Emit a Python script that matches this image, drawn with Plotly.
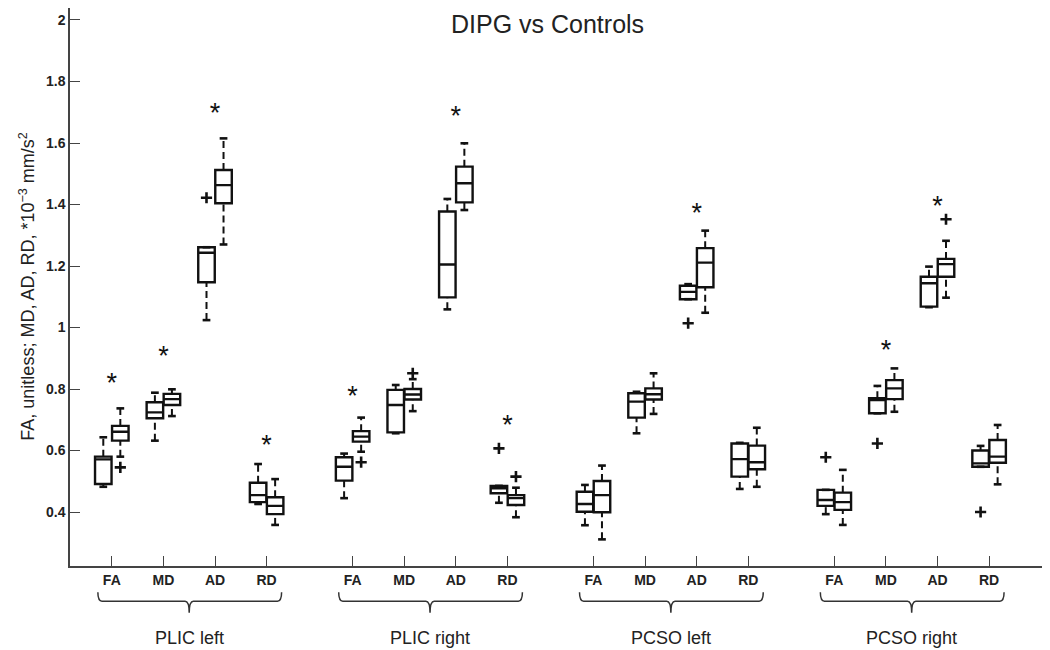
import plotly.graph_objects as go

# ---- data ----
regions = ["PLIC left", "PLIC right", "PCSO left", "PCSO right"]
metrics = ["FA", "MD", "AD", "RD"]

# 16 categories: region x metric, DIPG boxes
dipg_low = [0.482, 0.632, 1.024, 0.426, 0.445, 0.656, 1.059, 0.430,
            0.357, 0.656, 1.092, 0.475, 0.393, 0.721, 1.066, 0.547]
dipg_q1 = [0.491, 0.705, 1.147, 0.432, 0.502, 0.659, 1.098, 0.461,
           0.401, 0.707, 1.092, 0.515, 0.420, 0.721, 1.068, 0.547]
dipg_med = [0.571, 0.724, 1.243, 0.455, 0.547, 0.748, 1.205, 0.477,
            0.426, 0.759, 1.116, 0.572, 0.439, 0.764, 1.144, 0.558]
dipg_q3 = [0.580, 0.757, 1.261, 0.495, 0.578, 0.797, 1.377, 0.485,
           0.466, 0.786, 1.136, 0.623, 0.472, 0.770, 1.165, 0.600]
dipg_high = [0.643, 0.788, 1.261, 0.556, 0.590, 0.813, 1.418, 0.485,
             0.488, 0.791, 1.141, 0.625, 0.472, 0.810, 1.198, 0.615]

# Controls boxes
ctrl_low = [0.580, 0.712, 1.270, 0.358, 0.596, 0.728, 1.382, 0.383,
            0.311, 0.719, 1.048, 0.482, 0.358, 0.726, 1.097, 0.490]
ctrl_q1 = [0.632, 0.748, 1.404, 0.393, 0.629, 0.766, 1.407, 0.423,
           0.399, 0.766, 1.131, 0.539, 0.407, 0.767, 1.165, 0.560]
ctrl_med = [0.661, 0.767, 1.463, 0.420, 0.645, 0.782, 1.469, 0.445,
            0.455, 0.783, 1.211, 0.562, 0.432, 0.802, 1.206, 0.580]
ctrl_q3 = [0.680, 0.784, 1.512, 0.448, 0.663, 0.800, 1.523, 0.455,
           0.501, 0.802, 1.258, 0.616, 0.463, 0.829, 1.223, 0.634]
ctrl_high = [0.737, 0.799, 1.615, 0.507, 0.707, 0.832, 1.599, 0.479,
             0.551, 0.851, 1.315, 0.674, 0.537, 0.867, 1.282, 0.683]

# outliers (category index, value)
dipg_out_idx = [2, 7, 10, 12, 13, 15]
dipg_out_val = [1.422, 0.607, 1.014, 0.578, 0.623, 0.400]
ctrl_out_idx = [0, 4, 5, 7, 14]
ctrl_out_val = [0.545, 0.562, 0.851, 0.515, 1.352]

# significance stars
star_idx = [0, 1, 2, 3, 4, 6, 7, 10, 13, 14]
star_val = [0.813, 0.900, 1.691, 0.610, 0.770, 1.680, 0.675, 1.366, 0.921, 1.388]

y_ticks = [0.4, 0.6, 0.8, 1.0, 1.2, 1.4, 1.6, 1.8, 2.0]

# ---- geometry ----
GROUP_GAP = 14 / 3
cat_pos = [g * GROUP_GAP + i for g in range(len(regions)) for i in range(len(metrics))]
OFF = 0.165
BOX_W = 0.32
CAP = 0.075
INK = '#111'
FONT = 'Arial, Liberation Sans, sans-serif'

fig = go.Figure()


def add_group(xs, low, q1, med, q3, high):
    fig.add_trace(go.Box(
        x=xs, q1=q1, median=med, q3=q3, lowerfence=q1, upperfence=q3,
        width=BOX_W, fillcolor='white', line=dict(color=INK, width=2.4),
        whiskerwidth=0, boxpoints=False, showlegend=False, hoverinfo='skip',
    ))
    # dashed whiskers
    wx, wy = [], []
    for x, lo, a, b, hi in zip(xs, low, q1, q3, high):
        if hi > b:
            wx += [x, x, None]; wy += [b, hi, None]
        if lo < a:
            wx += [x, x, None]; wy += [lo, a, None]
    fig.add_trace(go.Scatter(x=wx, y=wy, mode='lines',
                             line=dict(color=INK, width=2, dash='7px,4px'),
                             showlegend=False, hoverinfo='skip'))
    # whisker caps
    cx, cy = [], []
    for x, lo, hi in zip(xs, low, high):
        cx += [x - CAP, x + CAP, None, x - CAP, x + CAP, None]
        cy += [lo, lo, None, hi, hi, None]
    fig.add_trace(go.Scatter(x=cx, y=cy, mode='lines',
                             line=dict(color=INK, width=2.6),
                             showlegend=False, hoverinfo='skip'))


dipg_x = [p - OFF for p in cat_pos]
ctrl_x = [p + OFF for p in cat_pos]
add_group(dipg_x, dipg_low, dipg_q1, dipg_med, dipg_q3, dipg_high)
add_group(ctrl_x, ctrl_low, ctrl_q1, ctrl_med, ctrl_q3, ctrl_high)

# outliers
fig.add_trace(go.Scatter(
    x=[dipg_x[i] for i in dipg_out_idx] + [ctrl_x[i] for i in ctrl_out_idx],
    y=dipg_out_val + ctrl_out_val,
    mode='markers',
    marker=dict(symbol='cross-thin', size=8, line=dict(color=INK, width=2.6)),
    showlegend=False, hoverinfo='skip',
))

# stars
fig.add_trace(go.Scatter(
    x=[cat_pos[i] for i in star_idx], y=star_val,
    mode='text', text=['*'] * len(star_idx),
    textposition='middle center',
    textfont=dict(family=FONT, size=27, color=INK),
    showlegend=False, hoverinfo='skip',
))

# braces + region labels under each group
Y0, Y1, Y2 = -0.047, -0.063, -0.084
for g, name in enumerate(regions):
    xl = cat_pos[g * 4] - 0.27
    xr = cat_pos[g * 4 + 3] + 0.29
    xc = (cat_pos[g * 4] + cat_pos[g * 4 + 3]) / 2
    r = 0.08
    path = (f'M {xl},{Y0} Q {xl},{Y1} {xl + r},{Y1} L {xc - r},{Y1} '
            f'Q {xc},{Y1} {xc},{Y2} Q {xc},{Y1} {xc + r},{Y1} '
            f'L {xr - r},{Y1} Q {xr},{Y1} {xr},{Y0}')
    fig.add_shape(type='path', path=path, xref='x', yref='paper',
                  line=dict(color='#333', width=1.5))
    fig.add_annotation(x=xc, y=-0.129, xref='x', yref='paper', text=name,
                       showarrow=False, yanchor='middle',
                       font=dict(family=FONT, size=18, color='#222'))

fig.add_annotation(x=0.487, y=1.0, xref='paper', yref='paper',
                   text='DIPG vs Controls', showarrow=False, yanchor='top',
                   font=dict(family=FONT, size=25, color='#222'))
fig.add_annotation(x=-0.058, y=0.5, xref='paper', yref='paper',
                   text='FA, unitless; MD, AD, RD, *10<sup>−3</sup> mm/s<sup>2</sup>',
                   textangle=-90, showarrow=False,
                   font=dict(family=FONT, size=18, color='#222'))

# page body adds an 8px offset, so the figure is 8px smaller and the
# y range starts a bit lower to keep the plot area where the reference has it
fig.update_layout(
    width=1042, height=642,
    margin=dict(l=62, r=0, t=0, b=84),
    paper_bgcolor='white', plot_bgcolor='white',
    xaxis=dict(
        range=[-0.81, 18.18], tickvals=cat_pos,
        ticktext=[f'<b>{m}</b>' for m in metrics] * len(regions),
        ticks='inside', ticklen=10, tickwidth=1.3, tickcolor='#444',
        showline=True, linecolor='#444', linewidth=1.5,
        showgrid=False, zeroline=False,
        tickfont=dict(family=FONT, size=14, color='#222'),
    ),
    yaxis=dict(
        range=[0.2244, 2.039], tickvals=y_ticks,
        ticktext=[f'<b>{v:g}</b>' for v in y_ticks],
        ticks='inside', ticklen=10, tickwidth=1.3, tickcolor='#444',
        showline=True, linecolor='#444', linewidth=1.5,
        showgrid=False, zeroline=False,
        tickfont=dict(family=FONT, size=14, color='#222'),
    ),
)

fig.write_html('out.html')
